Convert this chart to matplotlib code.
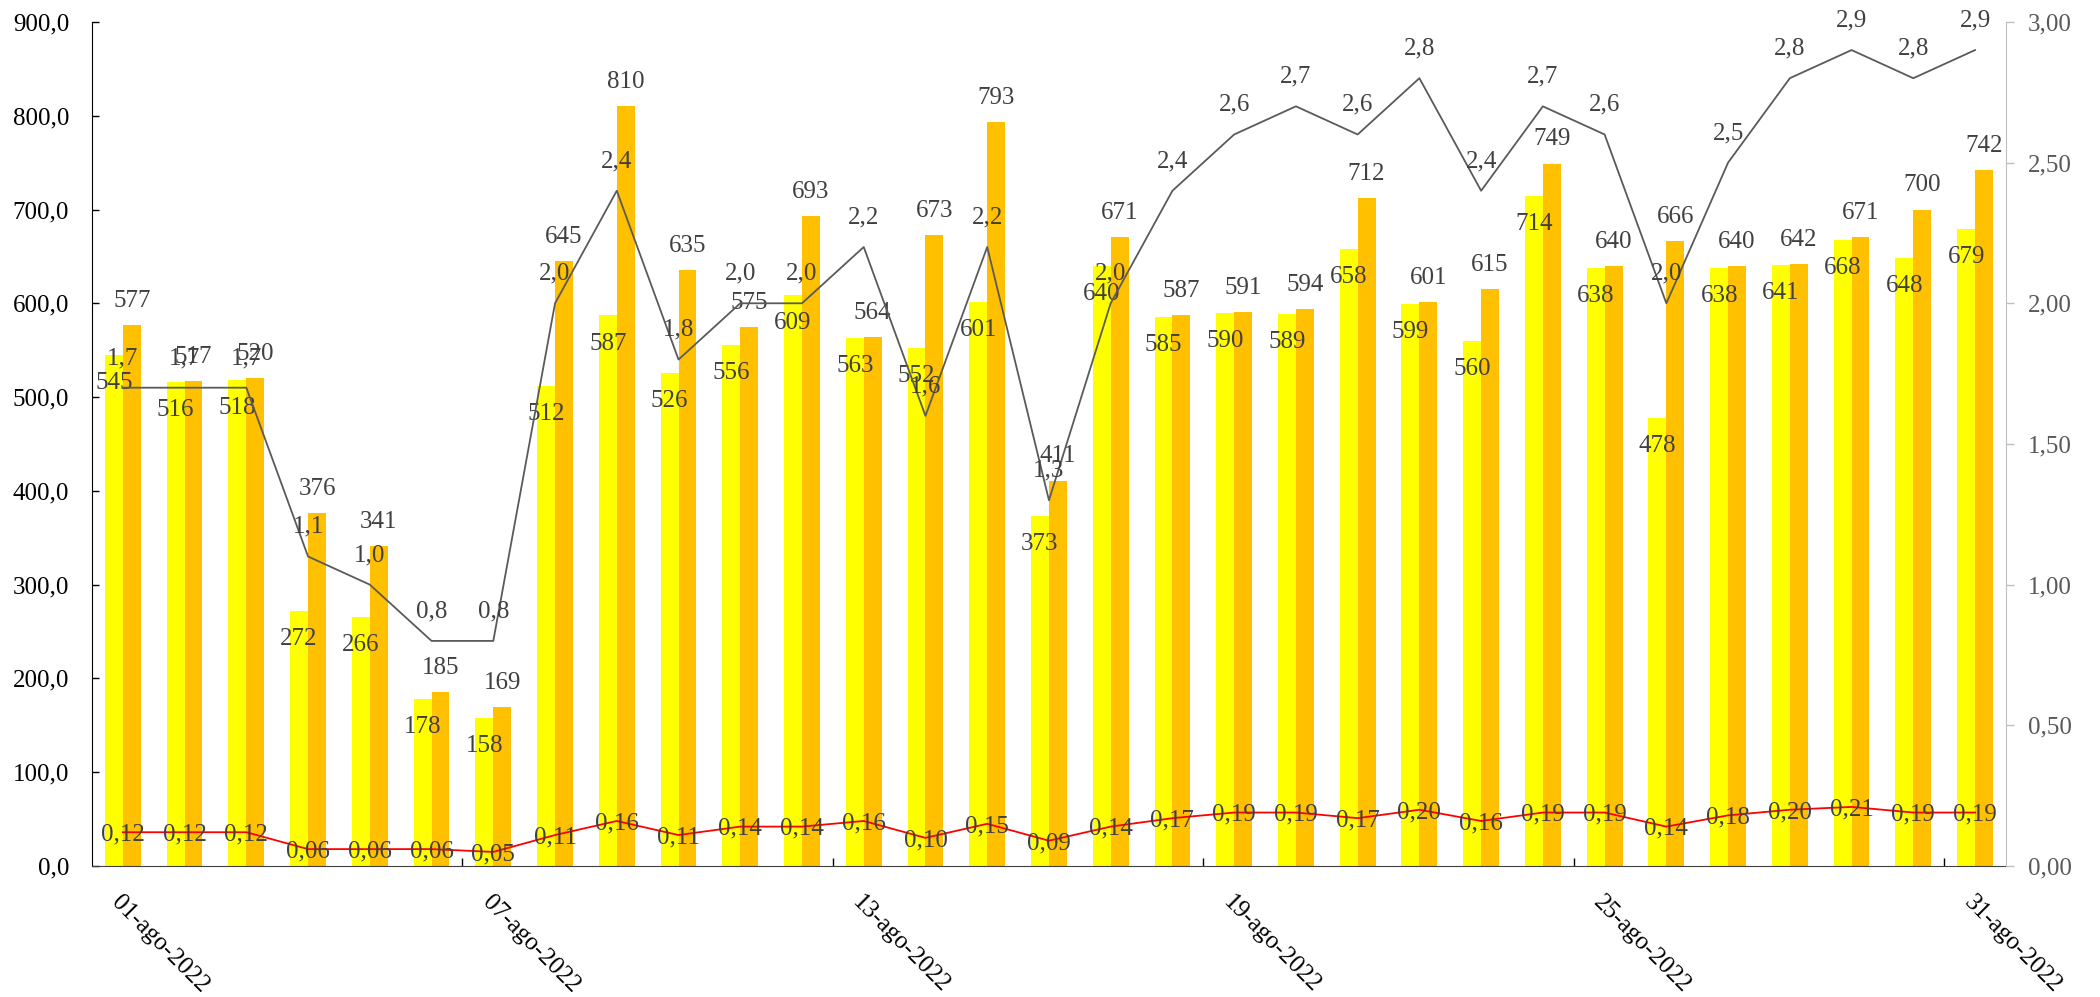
import matplotlib
matplotlib.use("Agg")
import matplotlib.pyplot as plt
import numpy as np

plt.rcParams["font.family"] = ["Liberation Serif", "DejaVu Serif"]

# ----------------------------------------------------------------------
# data
# ----------------------------------------------------------------------
days = [f"{d:02d}-ago-2022" for d in range(1, 32)]

serie_amarilla = [545, 516, 518, 272, 266, 178, 158, 512, 587, 526, 556, 609, 563, 552,
                  601, 373, 640, 585, 590, 589, 658, 599, 560, 714, 638, 478, 638, 641,
                  668, 648, 679]
serie_naranja = [577, 517, 520, 376, 341, 185, 169, 645, 810, 635, 575, 693, 564, 673,
                 793, 411, 671, 587, 591, 594, 712, 601, 615, 749, 640, 666, 640, 642,
                 671, 700, 742]
linea_gris = [1.7, 1.7, 1.7, 1.1, 1.0, 0.8, 0.8, 2.0, 2.4, 1.8, 2.0, 2.0, 2.2, 1.6, 2.2,
              1.3, 2.0, 2.4, 2.6, 2.7, 2.6, 2.8, 2.4, 2.7, 2.6, 2.0, 2.5, 2.8, 2.9, 2.8, 2.9]
linea_roja = [0.12, 0.12, 0.12, 0.06, 0.06, 0.06, 0.05, 0.11, 0.16, 0.11, 0.14, 0.14, 0.16,
              0.10, 0.15, 0.09, 0.14, 0.17, 0.19, 0.19, 0.17, 0.20, 0.16, 0.19, 0.19, 0.14,
              0.18, 0.20, 0.21, 0.19, 0.19]

label_idx = [0, 6, 12, 18, 24, 30]


def coma(v, nd):
    return f"{v:.{nd}f}".replace(".", ",")


# ----------------------------------------------------------------------
# figure
# ----------------------------------------------------------------------
fig = plt.figure(figsize=(21, 9.97), dpi=100)
ax = fig.add_axes([0.0438, 0.1314, 0.9552 - 0.0438, 0.978 - 0.1314])
ax2 = ax.twinx()

x = np.arange(len(days))
w = 0.29
AMAR = "#FFFF00"
NAR = "#FFC000"
TXT = "#404040"
FS = 18

ax.bar(x - w / 2, serie_amarilla, w, color=AMAR, zorder=2)
ax.bar(x + w / 2, serie_naranja, w, color=NAR, zorder=2)

for i in x:
    ax.annotate(str(serie_amarilla[i]), (i - w / 2, serie_amarilla[i]),
                xytext=(0, -24.5), textcoords="offset points",
                ha="center", va="baseline", fontsize=FS, color=TXT, zorder=5)
    ax.annotate(str(serie_naranja[i]), (i + w / 2, serie_naranja[i]),
                xytext=(0, 13), textcoords="offset points",
                ha="center", va="baseline", fontsize=FS, color=TXT, zorder=5)

ax.set_xlim(-0.5, len(days) - 0.5)
ax.set_ylim(0, 900)
ax.set_yticks(np.arange(0, 901, 100))
ax.set_yticklabels([coma(v, 1) for v in np.arange(0, 901, 100)])
ax.tick_params(axis="y", direction="in", length=5, width=1, pad=16.5,
               labelsize=FS, colors="black")

# x: tick marks on category boundaries, labels on days 1,7,...,31
ax.set_xticks([i - 0.5 for i in label_idx[1:]])
ax.set_xticklabels([])
ax.tick_params(axis="x", which="major", direction="in", length=6, width=1)
ax.set_xticks(label_idx, minor=True)
ax.set_xticklabels([days[i] for i in label_idx], minor=True, rotation=-45,
                   ha="left", va="top", rotation_mode="anchor", fontsize=FS)
ax.tick_params(axis="x", which="minor", length=0, pad=18)

for s in ["top", "right"]:
    ax.spines[s].set_visible(False)
ax.spines["left"].set_color("black")
ax.spines["bottom"].set_color("#404040")

# secondary axis
GRIS = "#5A5A5A"
ax2.plot(x, linea_gris, color=GRIS, lw=1.3, zorder=3)
ax2.plot(x, linea_roja, color="#FF0000", lw=1.3, zorder=3)
for i in x:
    ax2.annotate(coma(linea_gris[i], 1), (i, linea_gris[i]),
                 xytext=(0, 17), textcoords="offset points",
                 ha="center", va="baseline", fontsize=FS, color=TXT)
    ax2.annotate(coma(linea_roja[i], 2), (i, linea_roja[i]),
                 xytext=(0, -6), textcoords="offset points",
                 ha="center", va="baseline", fontsize=FS, color=TXT)

ax2.set_ylim(0, 3)
ax2.set_yticks(np.arange(0, 3.01, 0.5))
ax2.set_yticklabels([coma(v, 2) for v in np.arange(0, 3.01, 0.5)])
ax2.tick_params(axis="y", direction="out", length=6, width=1, pad=10,
                labelsize=FS, colors="#595959")
ax2.tick_params(axis="y", color="#BFBFBF")
for s in ["top", "left", "bottom"]:
    ax2.spines[s].set_visible(False)
ax2.spines["right"].set_color("#BFBFBF")

fig.savefig("out.png", dpi=100)
